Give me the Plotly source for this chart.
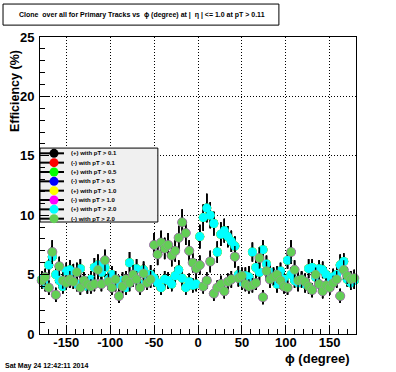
import plotly.graph_objects as go

# ---------------- data ----------------
phi_bins = [c for c in range(-178, 180, 4)]  # bin centres (degree)

eff_plus_pt20 = [4.6, 4.2, 5.8, 6.5, 5.0, 4.5, 4.0, 5.3, 5.4, 5.2,
                 4.2, 5.5, 4.4, 4.0, 4.6, 5.6, 5.8, 5.2, 5.6, 4.6,
                 5.0, 4.2, 4.3, 4.5, 3.9, 6.0, 4.7, 5.5, 4.2, 5.4,
                 4.8, 5.0, 4.7, 4.3, 3.9, 4.6, 4.5, 4.2, 4.9, 5.4,
                 4.7, 3.9, 4.4, 4.1, 4.2,
                 8.2, 9.8, 10.6, 10.0, 9.3, 6.9, 8.4, 8.7, 8.2, 7.8,
                 7.4, 5.0, 4.4, 4.9, 4.8, 6.9, 5.6, 5.2, 7.1, 5.9,
                 5.2, 5.0, 4.2, 5.3, 4.6, 6.2, 5.0, 4.5, 4.3, 4.6,
                 4.2, 5.5, 5.6, 4.8, 5.5, 5.4, 5.0, 4.4, 4.8, 5.0,
                 5.8, 6.1, 4.6, 4.3, 4.5]

eff_minus_pt20 = [4.5, 4.8, 3.9, 6.9, 3.3, 5.7, 4.5, 4.3, 4.6, 4.4,
                  5.2, 3.9, 4.5, 4.2, 4.0, 4.2, 5.4, 4.2, 6.2, 4.4,
                  3.9, 4.6, 3.2, 4.0, 4.6, 4.3, 5.0, 4.6, 3.9, 5.1,
                  4.3, 4.6, 7.5, 6.7, 7.7, 7.2, 7.5, 6.6, 7.0, 8.1,
                  9.4, 8.5, 7.0, 6.0, 5.5,
                  5.8, 4.0, 4.5, 6.1, 3.4, 3.9, 4.2, 3.6, 4.4, 4.6,
                  6.5, 4.7, 4.9, 4.2, 4.0, 4.1, 4.3, 6.4, 3.1, 5.3,
                  4.6, 4.8, 5.0, 4.5, 4.0, 3.9, 6.9, 5.4, 4.5, 4.6,
                  4.4, 4.0, 3.7, 5.0, 4.2, 3.6, 4.1, 3.9, 4.3, 4.6,
                  3.2, 5.4, 4.9, 4.6, 4.7]

err_plus_pt20 = [0.7, 0.6, 0.8, 0.9, 0.7, 0.6, 0.6, 0.7, 0.8, 0.7,
                 0.6, 0.8, 0.6, 0.6, 0.7, 0.8, 0.9, 0.7, 0.8, 0.6,
                 0.7, 0.6, 0.6, 0.7, 0.6, 0.9, 0.7, 0.8, 0.6, 0.7,
                 0.7, 0.8, 0.7, 0.6, 0.6, 0.7, 0.7, 0.6, 0.7, 0.8,
                 0.7, 0.6, 0.7, 0.6, 0.6,
                 1.0, 1.1, 1.2, 1.1, 1.0, 0.9, 1.0, 1.0, 0.9, 0.9,
                 0.8, 0.7, 0.7, 0.7, 0.9, 0.8, 0.7, 0.9, 0.8, 0.7,
                 0.7, 0.6, 0.7, 0.7, 0.8, 0.7, 0.6, 0.6, 0.7, 0.6,
                 0.7, 0.8, 0.7, 0.8, 0.7, 0.7, 0.6, 0.7, 0.7, 0.8,
                 0.9, 0.7, 0.6, 0.6, 0.7]

err_minus_pt20 = [0.7, 0.7, 0.6, 1.0, 0.6, 0.8, 0.7, 0.6, 0.7, 0.6,
                  0.8, 0.6, 0.7, 0.6, 0.6, 0.6, 0.8, 0.6, 0.9, 0.7,
                  0.6, 0.7, 0.6, 0.6, 0.7, 0.7, 0.8, 0.7, 0.6, 0.8,
                  0.6, 0.7, 1.0, 0.9, 1.0, 0.9, 1.0, 0.9, 0.9, 1.0,
                  1.1, 1.0, 0.9, 0.8, 0.8,
                  0.8, 0.6, 0.7, 0.9, 0.6, 0.6, 0.7, 0.6, 0.7, 0.7,
                  0.9, 0.7, 0.7, 0.6, 0.6, 0.6, 0.6, 0.9, 0.6, 0.8,
                  0.7, 0.7, 0.7, 0.7, 0.6, 0.6, 1.0, 0.8, 0.7, 0.7,
                  0.7, 0.6, 0.6, 0.6, 0.7, 0.6, 0.6, 0.6, 0.6, 0.7,
                  0.6, 0.8, 0.7, 0.7, 0.7]

series_labels = ["(+) with pT &gt; 0.1", "(-) with pT &gt; 0.1",
                 "(+) with pT &gt; 0.5", "(-) with pT &gt; 0.5",
                 "(+) with pT &gt; 1.0", "(-) with pT &gt; 1.0",
                 "(+) with pT &gt; 2.0", "(-) with pT &gt; 2.0"]
series_colors = ["#000000", "#ff0000", "#00ff00", "#0000ff",
                 "#ffff00", "#ff00ff", "#00ffff", "#62cf55"]
# lower-pT series are fully hidden under the pT > 2.0 markers in the picture
series_values = [eff_plus_pt20, eff_minus_pt20] * 4
series_errors = [err_plus_pt20, err_minus_pt20] * 4

x_tickvals = [-150, -100, -50, 0, 50, 100, 150]
x_ticktext = ["-150", "-100", "-50", "0", "50", "100", "150"]
y_tickvals = [0, 5, 10, 15, 20, 25]

FONT = "Liberation Sans, Arial, Helvetica, sans-serif"

fig = go.Figure()

for vals, errs, col, lab in zip(series_values, series_errors, series_colors, series_labels):
    is_minus = lab.startswith("(-)")
    fig.add_trace(go.Scatter(
        x=phi_bins, y=vals, mode="markers", name=lab, showlegend=False,
        cliponaxis=False,
        marker=dict(symbol="circle", size=9, color=col,
                    line=dict(width=0.6 if is_minus else 0,
                              color="rgba(165,140,175,0.7)")),
        error_y=dict(type="data", array=errs, visible=True, color="black",
                     thickness=1.4, width=0),
    ))

# ---------------- hand-drawn ROOT-style legend on an overlay axis pair ----------------
box_x = [0, 0.373, 0.373, 0, 0]
box_y = [0.377, 0.377, 0.626, 0.626, 0.377]
fig.add_trace(go.Scatter(x=box_x, y=box_y, xaxis="x2", yaxis="y2", mode="lines",
                         fill="toself", fillcolor="#f0f0f0",
                         line=dict(color="black", width=1), showlegend=False,
                         hoverinfo="skip"))
row_y = [0.6084 - i * 0.03145 for i in range(len(series_labels))]
seg_x, seg_y = [], []
for ry in row_y:
    seg_x += [0.0, 0.076, None]
    seg_y += [ry, ry, None]
fig.add_trace(go.Scatter(x=seg_x, y=seg_y, xaxis="x2", yaxis="y2", mode="lines",
                         line=dict(color="black", width=2), showlegend=False,
                         hoverinfo="skip"))
fig.add_trace(go.Scatter(x=[0.0443] * len(row_y), y=row_y, xaxis="x2", yaxis="y2",
                         mode="markers",
                         marker=dict(size=9, color=series_colors, line=dict(width=0)),
                         showlegend=False, hoverinfo="skip"))

annotations = []
for ry, lab in zip(row_y, series_labels):
    annotations.append(dict(x=0.092, y=ry, xref="paper", yref="paper", text=lab,
                            showarrow=False, xanchor="left", yanchor="middle",
                            font=dict(family=FONT, size=6, color="black", weight="bold")))

# titles and stamps
annotations += [
    dict(x=0.323, y=1.074, xref="paper", yref="paper", showarrow=False,
         text="Clone\u00a0\u00a0over all for Primary Tracks vs\u00a0\u00a0ϕ (degree) at |\u00a0\u00a0η | &lt;= 1.0 at pT &gt; 0.11",
         font=dict(family=FONT, size=7, color="black", weight="bold"),
         xanchor="center", yanchor="middle"),
    dict(x=0.987, y=-0.083, xref="paper", yref="paper", showarrow=False,
         text="ϕ (degree)", xanchor="right", yanchor="middle",
         font=dict(family=FONT, size=13, color="black", weight="bold")),
    dict(x=-0.079, y=0.963, xref="paper", yref="paper", showarrow=False,
         text="Efficiency (%)", textangle=-90, xanchor="center", yanchor="top",
         font=dict(family=FONT, size=12.5, color="black", weight="bold")),
    dict(x=-0.117, y=-0.108, xref="paper", yref="paper", showarrow=False,
         text="Sat May 24 12:42:11 2014", xanchor="left", yanchor="middle",
         font=dict(family=FONT, size=7, color="black", weight="bold")),
]

shapes = [dict(type="rect", xref="paper", yref="paper",
               x0=-0.117, x1=0.756, y0=1.040, y1=1.111,
               line=dict(color="black", width=1), fillcolor="white", layer="above")]

axis_common = dict(showline=True, mirror=True, linecolor="black", linewidth=1,
                   ticks="inside", tickcolor="black", tickwidth=1,
                   showgrid=True, gridcolor="black", gridwidth=1, griddash="1px,2px",
                   zeroline=False,
                   tickfont=dict(family=FONT, size=13, color="black", weight="bold"))

fig.update_layout(
    width=396, height=372,
    margin=dict(l=40, r=40, t=37, b=38, pad=0),
    paper_bgcolor="white", plot_bgcolor="white",
    showlegend=False,
    xaxis=dict(range=[-180, 180], tickvals=x_tickvals, ticktext=x_ticktext, ticklen=9,
               ticklabelstandoff=-4,
               minor=dict(dtick=10, tick0=0, ticks="inside", ticklen=5,
                          tickcolor="black", showgrid=False),
               **axis_common),
    yaxis=dict(range=[0, 25], tickvals=y_tickvals, ticklen=9,
               ticklabelstandoff=2,
               minor=dict(dtick=1, tick0=0, ticks="inside", ticklen=5,
                          tickcolor="black", showgrid=False),
               **axis_common),
    xaxis2=dict(overlaying="x", range=[0, 1], visible=False, fixedrange=True),
    yaxis2=dict(overlaying="y", range=[0, 1], visible=False, fixedrange=True),
    annotations=annotations,
    shapes=shapes,
)

fig.write_html("out.html", config={"displayModeBar": False, "staticPlot": True},
               post_script="document.body.style.margin='0';document.body.style.overflow='hidden';")
